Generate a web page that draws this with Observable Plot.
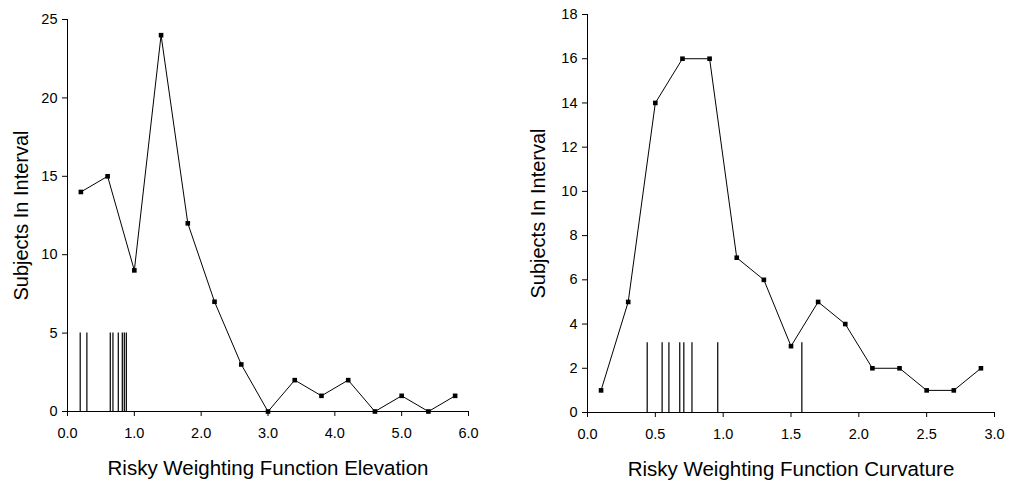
<!DOCTYPE html>
<html>
<head>
<meta charset="utf-8">
<script src="https://cdn.jsdelivr.net/npm/d3@7"></script>
<script src="https://cdn.jsdelivr.net/npm/@observablehq/plot@0.6"></script>
<style>
  html, body { margin: 0; padding: 0; background: #fff; }
  #wrap { position: relative; width: 1009px; height: 481px; font-family: "Liberation Sans", Arial, sans-serif; }
  #left, #right { position: absolute; top: 0; }
  #left { left: 0; }
  #right { left: 509px; }
</style>
</head>
<body>
<div id="wrap"><div id="left"></div><div id="right"></div></div>
<script>
// Left panel: elevation
const elevX = [0.2, 0.6, 1.0, 1.4, 1.8, 2.2, 2.6, 3.0, 3.4, 3.8, 4.2, 4.6, 5.0, 5.4, 5.8];
const elevY = [14, 15, 9, 24, 12, 7, 3, 0, 2, 1, 2, 0, 1, 0, 1];
const elevRug = [0.19, 0.29, 0.64, 0.68, 0.76, 0.82, 0.85, 0.88];
const elevRugHeight = 5;
const elevXTicks = [0, 1, 2, 3, 4, 5, 6];
const elevYTicks = [0, 5, 10, 15, 20, 25];

// Right panel: curvature
const curvX = [0.1, 0.3, 0.5, 0.7, 0.9, 1.1, 1.3, 1.5, 1.7, 1.9, 2.1, 2.3, 2.5, 2.7, 2.9];
const curvY = [1, 5, 14, 16, 16, 7, 6, 3, 5, 4, 2, 2, 1, 1, 2];
const curvRug = [0.44, 0.55, 0.60, 0.68, 0.71, 0.77, 0.96, 1.58];
const curvRugHeight = 3.15;
const curvXTicks = [0, 0.5, 1.0, 1.5, 2.0, 2.5, 3.0];
const curvYTicks = [0, 2, 4, 6, 8, 10, 12, 14, 16, 18];

const yTitle = "Subjects In Interval";
const elevTitle = "Risky Weighting Function Elevation";
const curvTitle = "Risky Weighting Function Curvature";

const FONT = "Liberation Sans, Arial, sans-serif";

function panel({xs, ys, rug, rugH, xTicks, yTicks, xDomain, yDomain, xTitle, ml, mr, mt, mb, yTitleDx}) {
  const pts = xs.map((x, i) => ({x, y: ys[i]}));
  const rugData = rug.map(x => ({x, y1: 0, y2: rugH}));
  return Plot.plot({
    width: 500,
    height: 481,
    marginLeft: ml,
    marginRight: mr,
    marginTop: mt,
    marginBottom: mb,
    style: {fontFamily: FONT, color: "#000", background: "#fff", overflow: "visible"},
    x: {domain: xDomain, ticks: xTicks},
    y: {domain: yDomain, ticks: yTicks},
    marks: [
      Plot.ruleX(rugData, {x: "x", y1: "y1", y2: "y2", stroke: "#000", strokeWidth: 1.2}),
      Plot.line(pts, {x: "x", y: "y", stroke: "#000", strokeWidth: 1}),
      Plot.dot(pts, {x: "x", y: "y", symbol: "square", r: 2.6, fill: "#000", stroke: "none"}),
      Plot.ruleY([yDomain[0]], {stroke: "#000", strokeWidth: 1}),
      Plot.ruleX([xDomain[0]], {stroke: "#000", strokeWidth: 1}),
      Plot.axisX({ticks: xTicks, tickFormat: d3.format(".1f"), tickSize: 5, tickPadding: 11, fontSize: 14.5, label: null, stroke: "#000"}),
      Plot.axisY({ticks: yTicks, tickFormat: d3.format("d"), tickSize: 5, tickPadding: 5, fontSize: 14.5, label: null, stroke: "#000"}),
      Plot.text([xTitle], {frameAnchor: "bottom", dy: 57, fontSize: 20.5, fill: "#000", lineAnchor: "middle", textAnchor: "middle"}),
      Plot.text([yTitle], {frameAnchor: "left", rotate: -90, dx: yTitleDx, fontSize: 20, fill: "#000", textAnchor: "middle", lineAnchor: "middle"})
    ]
  });
}

document.getElementById("left").appendChild(panel({
  xs: elevX, ys: elevY, rug: elevRug, rugH: elevRugHeight,
  xTicks: elevXTicks, yTicks: elevYTicks, xDomain: [0, 6], yDomain: [0, 25],
  xTitle: elevTitle, ml: 67, mr: 32, mt: 19, mb: 70, yTitleDx: -46
}));
document.getElementById("right").appendChild(panel({
  xs: curvX, ys: curvY, rug: curvRug, rugH: curvRugHeight,
  xTicks: curvXTicks, yTicks: curvYTicks, xDomain: [0, 3], yDomain: [0, 18],
  xTitle: curvTitle, ml: 78, mr: 15, mt: 14, mb: 69, yTitleDx: -49
}));
</script>
</body>
</html>
